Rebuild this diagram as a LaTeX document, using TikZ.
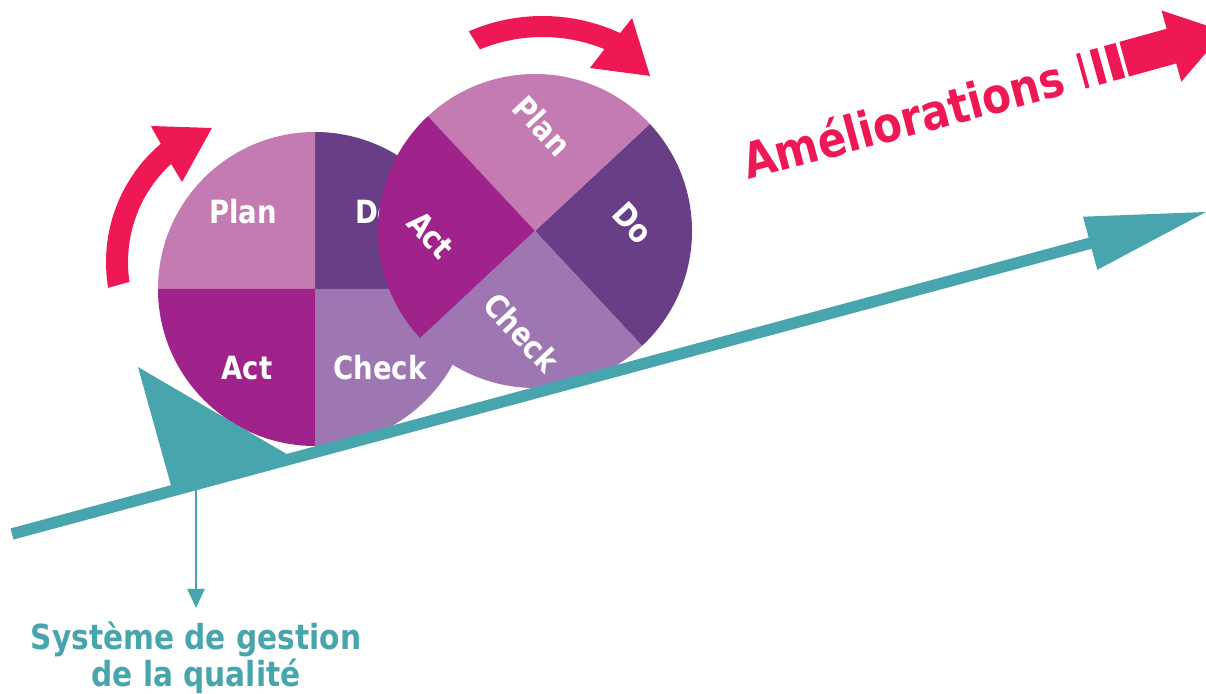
\documentclass[tikz,border=0pt]{standalone}
\usepackage{fontspec}
\newfontfamily\pdcafont{DejaVu Sans}[FakeStretch=0.86]
\usepackage{tikz}
\usetikzlibrary{arrows.meta}

\definecolor{plancol}{RGB}{196,123,178}
\definecolor{docol}{RGB}{104,63,135}
\definecolor{actcol}{RGB}{160,34,139}
\definecolor{checkcol}{RGB}{158,118,178}
\definecolor{qualteal}{RGB}{72,165,173}
\definecolor{pinkcol}{RGB}{238,25,84}

\tikzset{
  wheeltext/.style={text=white, inner sep=0pt, transform shape, font=\pdcafont\bfseries\fontsize{32}{36}\selectfont},
  qualtext/.style={text=qualteal, inner sep=0pt, align=center, font=\pdcafont\bfseries\fontsize{34.5}{37}\selectfont},
  ameliotext/.style={text=pinkcol, inner sep=0pt, font=\pdcafont\bfseries\fontsize{49}{52}\selectfont},
}

\begin{document}
\begin{tikzpicture}[x=1pt,y=1pt]
\usetikzlibrary{calc}   %for the arrow head of the slope.

\useasboundingbox (0,0) rectangle (1206,693);
\clip (0,0) rectangle (1206,693);

% Pink turning arrows.
\begin{scope}[shift={(261,431)}]
\fill[pinkcol] (189.6:155) arc[start angle=189.6, end angle=130.3, radius=155] -- (129:175) -- (110.1:142.7) -- (134.6:112.4) -- (132.5:133) arc[start angle=132.5, end angle=188.6, radius=133] -- cycle;
\end{scope}
\begin{scope}[shift={(542.5,492)}]
\fill[pinkcol] (113.5:185) arc[start angle=113.5, end angle=65.2, radius=185] -- (63.9:203.7) -- (49.3:164.9) -- (70.4:141.2) -- (67.8:164) arc[start angle=67.8, end angle=112.4, radius=164] -- cycle;
\end{scope}

% The two PDCA wheels.
\foreach \w/\cx/\cy/\rot in {1/315/404/0, 2/535/462/-47}
{
\begin{scope}[shift={(\cx,\cy)}, rotate=\rot]
\foreach \col/\a in {docol/0, plancol/90, actcol/180, checkcol/270}
  \fill[\col] (0,0) -- (\a:157) arc[start angle=\a, end angle=\a+90, radius=157] -- cycle;
\node[wheeltext] (plan\w) at (-72,77) {Plan};
\node[wheeltext] (do\w) at (61,77) {Do};
\node[wheeltext] (act\w) at (-68,-79) {Act};
\node[wheeltext] (check\w) at (65,-79) {Check};
\end{scope}
}

% Slope, wedge and quality label.
\coordinate (tail) at (12,159);
\coordinate (tip) at (1206,481);
\coordinate (neck) at ($(tip)!120pt!(tail)$);
\draw[qualteal, line width=11.5pt] (tail) -- ($(neck)!-2pt!(tail)$);
\fill[qualteal] (tip) -- ($(neck)!27.5pt!90:(tip)$) -- ($(neck)!27.5pt!-90:(tip)$) -- cycle;
\fill[qualteal] (138,326) -- (172,204) -- (290,237) -- cycle;

\node[qualtext, anchor=base] (sgq) at (196,7) {Système de gestion\\de la qualité};
\coordinate (qtop) at (196,224);
\coordinate (qbot) at (196,85);
\draw[qualteal, line width=2.5pt, -{Triangle[length=19pt, width=17pt]}] (qtop) -- (qbot);

% Improvement label and striped arrow.
\node[ameliotext, anchor=base west, rotate=15] (amelio) at (748,513) {Améliorations};
\begin{scope}[shift={(1124.2,633.8)}, rotate=15.5]
\foreach \a/\b in {-45/-41, -31/-23, -16/-4}
  \fill[pinkcol] (\a,-18) rectangle (\b,18);
\fill[pinkcol] (0,-18) -- (49,-18) -- (49,-37) -- (104,0) -- (49,37) -- (49,18) -- (0,18) -- cycle;
\end{scope}
\end{tikzpicture}
\end{document}
